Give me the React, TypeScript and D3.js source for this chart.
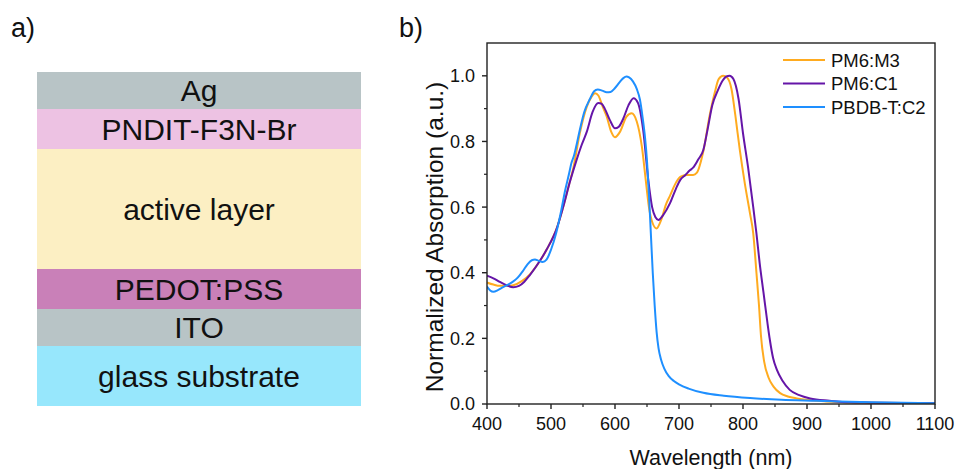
import React from 'react'
import * as d3 from 'd3'

const width = 956
const height = 469
const plot = {left: 487, right: 935, top: 43, bottom: 404}
const font = 'Arial, "Liberation Sans", sans-serif'

// device stack, top to bottom (relative thickness)
const layerNames = ['Ag', 'PNDIT-F3N-Br', 'active layer', 'PEDOT:PSS', 'ITO', 'glass substrate']
const layerThickness = [37, 40, 120, 40, 37, 60]
const layerColors = ['#b8c4c6', '#edc2e3', '#fcefc3', '#c980b8', '#b8c4c6', '#97e7fc']

// absorption spectra
const m3Wl = [400, 410, 420, 430, 441, 455, 467, 483, 493, 509, 519, 527, 535, 545, 556, 563, 569, 574, 580, 587, 594, 600, 608, 618, 626, 634, 642, 648, 653, 659, 665, 672, 680, 686, 694, 702, 712, 722, 728, 738, 748, 756, 762, 769, 775, 782, 788, 795, 803, 811, 816, 821, 825, 828, 833, 840, 848, 858, 870, 884, 915, 950, 1000, 1100]
const m3Abs = [0.37, 0.364, 0.36, 0.36, 0.362, 0.375, 0.395, 0.437, 0.47, 0.535, 0.6, 0.66, 0.72, 0.825, 0.906, 0.935, 0.947, 0.94, 0.91, 0.876, 0.83, 0.813, 0.83, 0.876, 0.886, 0.861, 0.784, 0.683, 0.6, 0.55, 0.535, 0.56, 0.61, 0.635, 0.67, 0.692, 0.698, 0.698, 0.705, 0.77, 0.88, 0.95, 0.99, 1.0, 0.995, 0.96, 0.88, 0.774, 0.67, 0.58, 0.52, 0.4, 0.3, 0.21, 0.13, 0.08, 0.052, 0.033, 0.023, 0.017, 0.01, 0.006, 0.004, 0.002]

const c1Wl = [400, 410, 420, 430, 441, 450, 458, 467, 483, 493, 509, 519, 530, 540, 548, 556, 565, 574, 579, 584, 592, 600, 606, 613, 621, 629, 636, 644, 652, 658, 663, 668, 675, 686, 695, 702, 710, 717, 722, 730, 738, 745, 752, 761, 768, 774, 779, 785, 793, 800, 808, 816, 821, 826, 832, 838, 842, 847, 853, 862, 873, 888, 905, 935, 967, 1000, 1100]
const c1Abs = [0.391, 0.383, 0.372, 0.362, 0.356, 0.36, 0.372, 0.393, 0.437, 0.47, 0.535, 0.6, 0.68, 0.744, 0.79, 0.83, 0.89, 0.917, 0.915, 0.9, 0.865, 0.84, 0.845, 0.87, 0.91, 0.932, 0.917, 0.835, 0.683, 0.6, 0.57, 0.561, 0.575, 0.612, 0.655, 0.683, 0.698, 0.712, 0.72, 0.745, 0.774, 0.84, 0.91, 0.957, 0.985, 0.998, 1.0, 0.99, 0.93, 0.825, 0.72, 0.6, 0.52, 0.43, 0.34, 0.25, 0.195, 0.14, 0.104, 0.07, 0.043, 0.027, 0.017, 0.01, 0.005, 0.004, 0.002]

const c2Wl = [400, 405, 410, 417, 425, 433, 440, 448, 456, 463, 470, 475, 480, 487, 493, 500, 508, 516, 522, 528, 532, 536, 540, 545, 552, 561, 567, 573, 580, 587, 593, 600, 607, 613, 618, 622, 628, 634, 639, 643, 647, 650, 653, 656, 659, 662, 665, 668, 672, 677, 684, 692, 700, 715, 738, 770, 811, 860, 915, 1000, 1100]
const c2Abs = [0.358, 0.346, 0.342, 0.347, 0.356, 0.364, 0.372, 0.385, 0.405, 0.425, 0.438, 0.44, 0.437, 0.433, 0.44, 0.47, 0.52, 0.59, 0.65, 0.7, 0.735, 0.757, 0.79, 0.835, 0.89, 0.93, 0.952, 0.958, 0.955, 0.95, 0.951, 0.963, 0.98, 0.993, 0.998, 0.995, 0.983, 0.96, 0.927, 0.875, 0.81, 0.74, 0.64, 0.52, 0.4, 0.3, 0.22, 0.17, 0.135, 0.108, 0.085, 0.07, 0.06, 0.047, 0.034, 0.025, 0.018, 0.013, 0.01, 0.005, 0.002]

const seriesNames = ['PM6:M3', 'PM6:C1', 'PBDB-T:C2']
const seriesColors = ['#ffab1f', '#6515a8', '#1e8fff']
const seriesWl = [m3Wl, c1Wl, c2Wl]
const seriesAbs = [m3Abs, c1Abs, c2Abs]

const xMajor = [400, 500, 600, 700, 800, 900, 1000, 1100]
const yMajor = [0, 0.2, 0.4, 0.6, 0.8, 1.0]

const App = () => {
  // stack diagram
  const total = d3.sum(layerThickness)
  const yStack = d3.scaleLinear().domain([0, total]).range([72, 406])
  const cum = d3.cumsum(layerThickness)
  const stackX0 = 37
  const stackX1 = 361

  // spectra
  const x = d3.scaleLinear().domain([400, 1100]).range([plot.left, plot.right])
  const y = d3.scaleLinear().domain([0, 1.1]).range([plot.bottom, plot.top])
  const xMinor = d3.range(450, 1100, 100)
  const yMinor = [0.1, 0.3, 0.5, 0.7, 0.9]

  const line = d3
    .line<[number, number]>()
    .x(d => x(d[0]))
    .y(d => y(d[1]))
    .curve(d3.curveMonotoneX)

  const axisColor = '#222'

  return (
    <svg
      width={width}
      height={height}
      style={{position: 'absolute', left: 0, top: 0, background: '#fff'}}
      fontFamily={font}
    >
      <defs>
        <clipPath id="plotClip">
          <rect x={plot.left} y={plot.top} width={plot.right - plot.left} height={plot.bottom - plot.top} />
        </clipPath>
      </defs>

      {/* panel a */}
      <text x={11} y={37} fontSize={27} fill="#111">a)</text>
      {layerNames.map((name, i) => {
        const y0 = yStack(i === 0 ? 0 : cum[i - 1])
        const y1 = yStack(cum[i])
        return (
          <g key={name}>
            <rect x={stackX0} y={y0} width={stackX1 - stackX0} height={y1 - y0} fill={layerColors[i]} />
            <text
              x={(stackX0 + stackX1) / 2}
              y={(y0 + y1) / 2}
              dy="0.36em"
              textAnchor="middle"
              fontSize={30}
              fill="#111"
            >
              {name}
            </text>
          </g>
        )
      })}

      {/* panel b */}
      <text x={399} y={37} fontSize={27} fill="#111">b)</text>

      <g clipPath="url(#plotClip)">
        {seriesNames.map((name, i) => {
          const pts = seriesWl[i].map((w, j) => [w, seriesAbs[i][j]] as [number, number])
          return (
            <path key={name} d={line(pts) || ''} fill="none" stroke={seriesColors[i]} strokeWidth={2} />
          )
        })}
      </g>

      <rect
        x={plot.left}
        y={plot.top}
        width={plot.right - plot.left}
        height={plot.bottom - plot.top}
        fill="none"
        stroke={axisColor}
        strokeWidth={1.4}
      />

      {xMajor.map(t => (
        <g key={'xm' + t}>
          <line x1={x(t)} x2={x(t)} y1={plot.bottom} y2={plot.bottom + 5} stroke={axisColor} strokeWidth={1.4} />
          <text x={x(t)} y={430} textAnchor="middle" fontSize={18} fill="#111">{t}</text>
        </g>
      ))}
      {xMinor.map(t => (
        <line key={'xn' + t} x1={x(t)} x2={x(t)} y1={plot.bottom} y2={plot.bottom + 3} stroke={axisColor} strokeWidth={1.2} />
      ))}
      {yMajor.map(t => (
        <g key={'ym' + t}>
          <line x1={plot.left - 5} x2={plot.left} y1={y(t)} y2={y(t)} stroke={axisColor} strokeWidth={1.4} />
          <text x={475} y={y(t)} dy="0.36em" textAnchor="end" fontSize={18} fill="#111">{t.toFixed(1)}</text>
        </g>
      ))}
      {yMinor.map(t => (
        <line key={'yn' + t} x1={plot.left - 3} x2={plot.left} y1={y(t)} y2={y(t)} stroke={axisColor} strokeWidth={1.2} />
      ))}

      <text x={711} y={465} textAnchor="middle" fontSize={21.5} fill="#111">
        Wavelength (nm)
      </text>
      <text
        transform={`translate(443, 237) rotate(-90)`}
        textAnchor="middle"
        fontSize={24.5}
        fill="#111"
      >
        Normalized Absorption (a.u.)
      </text>

      {/* legend */}
      {seriesNames.map((name, i) => {
        const ly = 60 + i * 23.5
        return (
          <g key={'lg' + name}>
            <line x1={783} x2={825} y1={ly} y2={ly} stroke={seriesColors[i]} strokeWidth={2} />
            <text x={831} y={ly} dy="0.36em" fontSize={18.5} fill="#111">{name}</text>
          </g>
        )
      })}
    </svg>
  )
}

export default App
